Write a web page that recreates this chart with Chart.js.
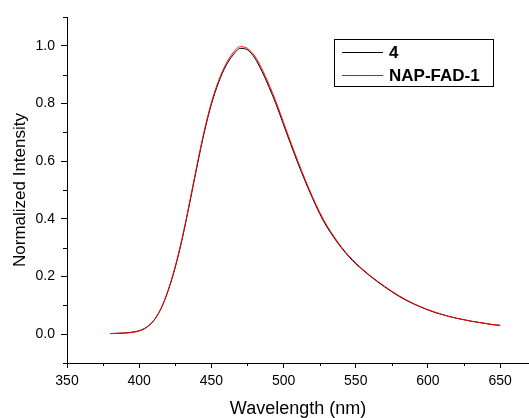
<!DOCTYPE html>
<html>
<head>
<meta charset="utf-8">
<script src="https://cdn.jsdelivr.net/npm/chart.js@4.4.1/dist/chart.umd.min.js"></script>
<style>
  html, body { margin: 0; padding: 0; background: #fff; }
</style>
</head>
<body>
<canvas id="spectrum" width="529" height="418"></canvas>
<script>
// Data

const wavelengths = [380, 385, 390, 395, 400, 405, 410, 415, 420, 425, 430, 435, 440, 445, 450,
  455, 460, 465, 470, 475, 480, 485, 490, 495, 500, 505, 510, 515, 520, 525, 530, 535, 540,
  545, 550, 555, 560, 565, 570, 575, 580, 585, 590, 595, 600, 605, 610, 615, 620, 625, 630,
  635, 640, 645, 650];

const intensity4 = [0.002, 0.003, 0.004, 0.007, 0.012, 0.024, 0.047, 0.088, 0.150, 0.232, 0.335,
  0.455, 0.580, 0.698, 0.797, 0.873, 0.930, 0.968, 0.991, 0.986, 0.958, 0.912, 0.856, 0.795,
  0.726, 0.658, 0.592, 0.530, 0.472, 0.418, 0.372, 0.334, 0.300, 0.270, 0.244, 0.222, 0.201,
  0.182, 0.164, 0.147, 0.131, 0.117, 0.105, 0.094, 0.084, 0.075, 0.068, 0.061, 0.055, 0.050,
  0.045, 0.041, 0.037, 0.033, 0.030];

const intensityNapFad1 = [0.002, 0.003, 0.004, 0.006, 0.011, 0.023, 0.046, 0.087, 0.152, 0.236,
  0.339, 0.460, 0.586, 0.704, 0.803, 0.879, 0.936, 0.976, 0.997, 0.991, 0.965, 0.920, 0.865,
  0.803, 0.734, 0.665, 0.599, 0.536, 0.477, 0.423, 0.377, 0.338, 0.303, 0.273, 0.247, 0.224,
  0.203, 0.184, 0.166, 0.149, 0.133, 0.119, 0.106, 0.095, 0.085, 0.076, 0.068, 0.061, 0.055,
  0.050, 0.045, 0.041, 0.037, 0.033, 0.031];

const seriesLabels = ['4', 'NAP-FAD-1'];
const seriesColors = ['#000000', '#ff0000'];

// ticks: majors get labels, the rest are minor ticks
const xTicks = [350, 375, 400, 425, 450, 475, 500, 525, 550, 575, 600, 625, 650];
const yTicks = [-0.1, 0.0, 0.1, 0.2, 0.3, 0.4, 0.5, 0.6, 0.7, 0.8, 0.9, 1.0, 1.1];

const FONT = 'Liberation Sans, Arial, Helvetica, sans-serif';

const isMajorX = v => v % 50 === 0;
const isMajorY = v => Math.round(v * 10) % 2 === 0;

// Minor ticks (shorter than the majors)

const minorTicks = {
  id: 'minorTicks',
  afterDraw(chart) {
    const { ctx, chartArea, scales } = chart;
    ctx.save();
    ctx.strokeStyle = '#000';
    ctx.lineWidth = 1;
    ctx.beginPath();
    xTicks.filter(v => !isMajorX(v)).forEach(v => {
      const px = Math.round(scales.x.getPixelForValue(v)) + 0.5;
      ctx.moveTo(px, chartArea.bottom);
      ctx.lineTo(px, chartArea.bottom + 3);
    });
    yTicks.filter(v => !isMajorY(v)).forEach(v => {
      const py = Math.round(scales.y.getPixelForValue(v)) + 0.5;
      ctx.moveTo(chartArea.left, py);
      ctx.lineTo(chartArea.left - 4, py);
    });
    ctx.stroke();
    ctx.restore();
  }
};

// Boxed legend in the upper right

const boxLegend = {
  id: 'boxLegend',
  afterDraw(chart) {
    const { ctx, chartArea } = chart;
    const left = chartArea.right - 195;
    const top = chartArea.top + 22;
    ctx.save();
    ctx.lineWidth = 1;
    ctx.strokeStyle = '#000';
    ctx.strokeRect(left + 0.5, top + 0.5, 159, 47);
    ctx.font = 'bold 17px ' + FONT;
    ctx.textBaseline = 'middle';
    ctx.fillStyle = '#000';
    seriesLabels.forEach((label, i) => {
      const y = top + 13 + i * 23;
      ctx.beginPath();
      ctx.strokeStyle = seriesColors[i];
      ctx.moveTo(left + 8, y + 0.5);
      ctx.lineTo(left + 49, y + 0.5);
      ctx.stroke();
      ctx.fillText(label, left + 55, y + 1);
    });
    ctx.restore();
  }
};

// Chart

const data = {
  datasets: [
    {
      label: seriesLabels[0],
      data: wavelengths.map((w, i) => ({ x: w, y: intensity4[i] })),
      borderColor: seriesColors[0],
      borderWidth: 1,
      pointRadius: 0,
      cubicInterpolationMode: 'monotone',
      order: 1
    },
    {
      label: seriesLabels[1],
      data: wavelengths.map((w, i) => ({ x: w, y: intensityNapFad1[i] })),
      borderColor: seriesColors[1],
      borderWidth: 1,
      pointRadius: 0,
      cubicInterpolationMode: 'monotone',
      order: 0
    }
  ]
};

const config = {
  type: 'line',
  data: data,
  options: {
    responsive: false,
    animation: false,
    devicePixelRatio: 1,
    layout: { padding: { top: 17, right: 0, bottom: 0, left: 0 } },
    plugins: { legend: { display: false }, tooltip: { enabled: false } },
    scales: {
      x: {
        type: 'linear',
        min: 350,
        max: 670,
        afterBuildTicks: s => { s.ticks = xTicks.map(v => ({ value: v })); },
        afterFit: s => { s.height = 55; },
        border: { display: true, color: '#000', width: 1 },
        grid: {
          drawOnChartArea: false,
          tickLength: 5,
          tickColor: c => (c.tick && isMajorX(c.tick.value)) ? '#000' : 'rgba(0,0,0,0)'
        },
        ticks: {
          color: '#000',
          font: { family: FONT, size: 14 },
          padding: 5,
          maxRotation: 0,
          autoSkip: false,
          callback: v => isMajorX(v) ? String(v) : ''
        },
        title: {
          display: true,
          text: 'Wavelength (nm)',
          color: '#000',
          font: { family: FONT, size: 18, lineHeight: 1 },
          padding: { top: 0, bottom: 0 }
        }
      },
      y: {
        type: 'linear',
        min: -0.1,
        max: 1.1,
        afterBuildTicks: s => { s.ticks = yTicks.map(v => ({ value: v })); },
        afterFit: s => { s.width = 67; },
        border: { display: true, color: '#000', width: 1 },
        grid: {
          drawOnChartArea: false,
          tickLength: 6,
          tickColor: c => (c.tick && isMajorY(c.tick.value)) ? '#000' : 'rgba(0,0,0,0)'
        },
        ticks: {
          color: '#000',
          font: { family: FONT, size: 14 },
          padding: 6,
          autoSkip: false,
          callback: v => isMajorY(v) ? v.toFixed(1) : ''
        },
        title: {
          display: true,
          text: 'Normalized Intensity',
          color: '#000',
          font: { family: FONT, size: 17, lineHeight: 1.2 },
          padding: { top: 10, bottom: 0 }
        }
      }
    }
  },
  plugins: [minorTicks, boxLegend]
};

const ctx = document.getElementById('spectrum').getContext('2d');
const spectrumChart = new Chart(ctx, config);
</script>
</body>
</html>
